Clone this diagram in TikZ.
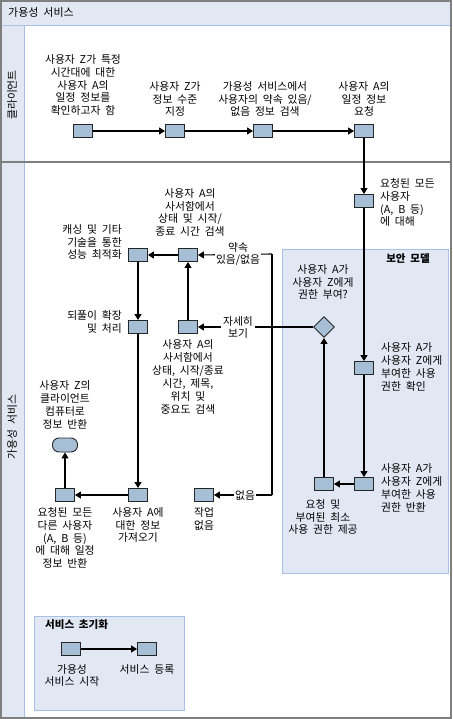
\documentclass[tikz,border=0pt]{standalone}
\usepackage{fontspec}
\setmainfont[WordSpace=2]{Noto Sans CJK KR}
\usetikzlibrary{arrows.meta,shapes.geometric}
\definecolor{boxfill}{HTML}{A7BFD6}
\definecolor{lanefill}{HTML}{E1E8F3}
\definecolor{lanestroke}{HTML}{A9C0E6}
\definecolor{framecol}{HTML}{7F7F7F}
\tikzset{
  box/.style={draw=black!85, fill=boxfill, line width=0.9pt, minimum width=19pt, minimum height=13pt, inner sep=0pt},
  arr/.style={-{Triangle[length=6pt,width=7pt]}, line width=1.1pt},
  conn/.style={line width=1.1pt},
  lbl/.style={align=center, inner sep=0pt},
  lblL/.style={align=left, inner sep=0pt, anchor=west},
  lblR/.style={align=right, inner sep=0pt, anchor=east},
  elbl/.style={align=center, fill=white, inner sep=1.5pt},
  grouptitle/.style={inner sep=0pt, font=\fontsize{10.5}{12}\selectfont\bfseries}
}
\begin{document}
\begin{tikzpicture}[x=1pt,y=-1pt, font=\fontsize{10.8}{12.9}\selectfont]
\useasboundingbox (0,0) rectangle (452,719);
\fill[white] (0,0) rectangle (452,719);
% header and lane column
\fill[lanefill] (1,1) rectangle (450,26);
\fill[lanefill] (1,26) rectangle (24,717);
\draw[lanestroke, line width=1pt] (1,26) -- (450,26);
\draw[lanestroke, line width=1pt] (24,26) -- (24,717);
\draw[framecol, line width=1.6pt] (1,162) -- (450,162);
\node[anchor=west, inner sep=0pt, font=\fontsize{11}{12}\selectfont] (title) at (8,12) {가용성 서비스};
\node[rotate=90, inner sep=0pt] (laneC) at (12,95) {클라이언트};
\node[rotate=90, inner sep=0pt] (laneS) at (12,427) {가용성 서비스};
% groups
\filldraw[fill=lanefill, draw=lanestroke, line width=1pt] (282,249) rectangle (448,573);
\node[grouptitle] (secT) at (408,259) {보안 모델};
\filldraw[fill=lanefill, draw=lanestroke, line width=1pt] (34,616) rectangle (184,710);
\node[grouptitle, anchor=west] (initT) at (45,625) {서비스 초기화};
% frame
\draw[framecol, line width=2pt] (1,1) rectangle (450.5,717.5);

% client lane
\node[box] (b1) at (83,131) {};
\node[box] (b2) at (175,131) {};
\node[box] (b3) at (263,131) {};
\node[box] (b4) at (364,131) {};
\node[lbl] (l1) at (83,85) {사용자 Z가 특정\\시간대에 대한\\사용자 A의\\일정 정보를\\확인하고자 함};
\node[lbl] (l2) at (175,99) {사용자 Z가\\정보 수준\\지정};
\node[lbl] (l3) at (265,99) {가용성 서비스에서\\사용자의 약속 있음/\\없음 정보 검색};
\node[lbl] (l4) at (364,99) {사용자 A의\\일정 정보\\요청};
\draw[arr] (b1) -- (b2);
\draw[arr] (b2) -- (b3);
\draw[arr] (b3) -- (b4);

% service lane right column
\node[box] (b5) at (364,201) {};
\node[box] (b6) at (364,368) {};
\node[box] (b7) at (364,484) {};
\node[box] (b8) at (324,484) {};
\node[draw=black!85, fill=boxfill, line width=0.9pt, diamond, minimum width=21pt, minimum height=21pt, inner sep=0pt] (dia) at (324,327) {};
\node[lblL] (l5) at (380,202.5) {요청된 모든\\사용자\\(A, B 등)\\에 대해};
\node[lblL] (l6) at (381,367) {사용자 A가\\사용자 Z에게\\부여한 사용\\권한 확인};
\node[lblL] (l7) at (381,487.5) {사용자 A가\\사용자 Z에게\\부여한 사용\\권한 반환};
\node[lbl] (l8) at (323,517) {요청 및\\부여된 최소\\사용 권한 제공};
\node[lbl] (l9) at (323,282) {사용자 A가\\사용자 Z에게\\권한 부여?};
\draw[arr] (b4) -- (b5);
\draw[arr] (b5) -- (b6);
\draw[arr] (b6) -- (b7);
\draw[arr] (b7) -- (b8);
\draw[arr] (b8) -- (dia);

% left part
\node[box] (b9) at (138,255) {};
\node[box] (b10) at (188,255) {};
\node[box] (b11) at (138,327) {};
\node[box] (b12) at (188,327) {};
\node[box] (b13) at (138,495) {};
\node[box] (b14) at (65,495) {};
\node[box] (b15) at (204,495) {};
\node[draw=black!85, fill=boxfill, line width=0.9pt, rounded corners=6.5pt, minimum width=25pt, minimum height=14pt, inner sep=0pt] (term) at (65,445) {};
\node[lbl] (l10) at (190,212.5) {사용자 A의\\사서함에서\\상태 및 시작/\\종료 시간 검색};
\node[lblR] (l11) at (122,242) {캐싱 및 기타\\기술을 통한\\성능 최적화};
\node[lblR] (l12) at (122,321.5) {되풀이 확장\\및 처리};
\node[lbl] (l13) at (188,377) {사용자 A의\\사서함에서\\상태, 시작/종료\\시간, 제목,\\위치 및\\중요도 검색};
\node[lbl] (l14) at (138,525) {사용자 A에\\대한 정보\\가져오기};
\node[lbl] (l15) at (65,538) {요청된 모든\\다른 사용자\\(A, B 등)\\에 대해 일정\\정보 반환};
\node[lbl] (l16) at (65,405) {사용자 Z의\\클라이언트\\컴퓨터로\\정보 반환};
\node[lbl] (l17) at (204,519) {작업\\없음};

\coordinate (jt) at (272,254);
\coordinate (jb) at (272,495);
\draw[conn] (jt) -- (jb);
\draw[arr] (dia.west) -- (b12.east);
\draw[arr] (jt) -- (b10.east);
\draw[arr] (jb) -- (b15.east);
\node[elbl] (e1) at (238,254) {약속\\있음/없음};
\node[elbl, inner xsep=2.5pt] (e2) at (238,327.5) {자세히\\보기};
\node[elbl] (e3) at (245,495) {없음};

\draw[arr] (b12) -- (b10);
\draw[arr] (b10) -- (b9);
\draw[arr] (b9) -- (b11);
\draw[arr] (b11) -- (b13);
\draw[arr] (b13) -- (b14);
\draw[arr] (b14) -- (term);

% init group
\node[box] (i1) at (71,649) {};
\node[box] (i2) at (147,649) {};
\node[lbl] (li1) at (72,675.5) {가용성\\서비스 시작};
\node[lbl] (li2) at (147,669) {서비스 등록};
\draw[arr] (i1) -- (i2);
\end{tikzpicture}
\end{document}
